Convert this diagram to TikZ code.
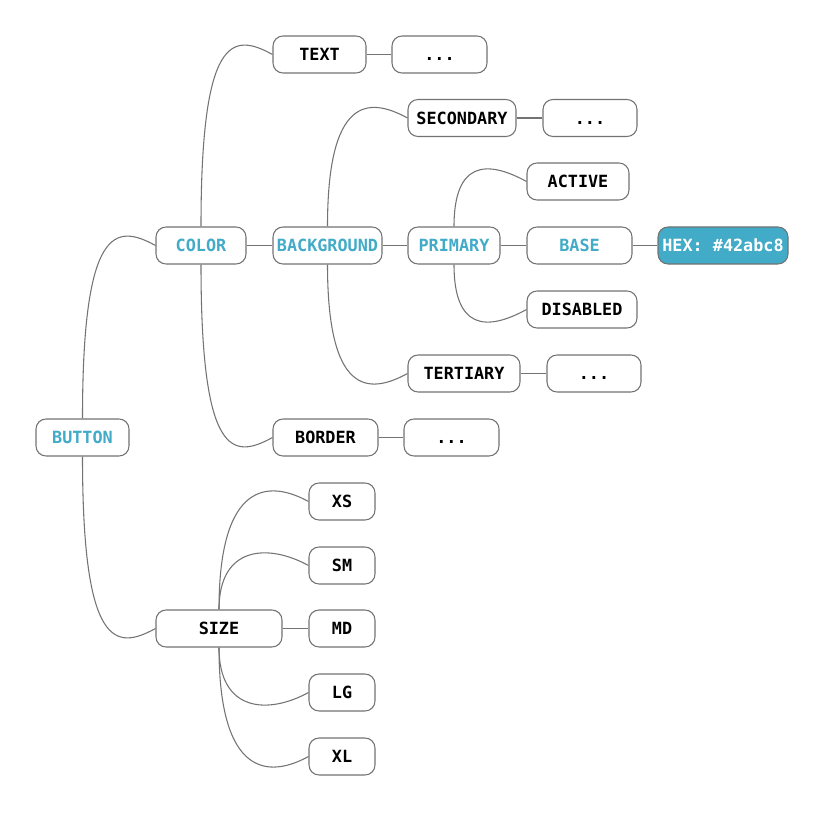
\documentclass[tikz,border=0pt]{standalone}
\usepackage{fontspec}
\setmonofont{DejaVu Sans Mono}
\usetikzlibrary{calc}

\definecolor{accent}{HTML}{42ABC8}
\definecolor{edge}{HTML}{737373}
\definecolor{frame}{HTML}{737373}

\tikzset{
  topic/.style={draw=frame, line width=0.8pt, rounded corners=7.5pt, fill=white,
    minimum height=27.75pt, inner xsep=0pt, inner ysep=0pt,
    text height=9.1pt, text depth=0pt,
    font=\ttfamily\bfseries\fontsize{12.6}{15}\selectfont},
  key/.style={topic, text=accent},
  swatch/.style={topic, fill=accent, text=white},
  wd/.style={minimum width=#1*0.75pt},
  link/.style={draw=edge, line width=0.8pt},
}

% curved branch from a parent's top or bottom into a child's left side
\newcommand\branchup[2]{\draw[link] (#1.north) .. controls ($(#1.north |- #2.west)+(0,-20)$) and ($(#2.west)+(-40,-22)$) .. (#2.west);}
\newcommand\branchdown[2]{\draw[link] (#1.south) .. controls ($(#1.south |- #2.west)+(0,20)$) and ($(#2.west)+(-40,22)$) .. (#2.west);}
\newcommand\branchflat[2]{\draw[link] (#1.east) -- (#2.west);}

\begin{document}
\begin{tikzpicture}[x=0.75pt, y=-0.75pt]
  \useasboundingbox (0,0) rectangle (825,813);

  % root and first level
  \node[key, wd=93]  (button) at (82.5,437.5) {BUTTON};
  \node[key, wd=90]  (color)  at (201,245.5)  {COLOR};
  \node[topic, wd=126] (size) at (219,628.5)  {SIZE};

  % colour branch
  \node[topic, wd=93] (text)     at (319.5,54.5) {TEXT};
  \node[topic, wd=95] (textmore) at (439.5,54.5) {...};
  \node[key, wd=109]  (background) at (327.5,245.5) {BACKGROUND};
  \node[topic, wd=105] (border)   at (325.5,437.5) {BORDER};
  \node[topic, wd=95] (bordermore) at (451.5,437.5) {...};

  \node[topic, wd=108] (secondary) at (462,118) {SECONDARY};
  \node[topic, wd=94]  (secmore)   at (590,118) {...};
  \node[key, wd=92]    (primary)   at (454,245.5) {PRIMARY};
  \node[topic, wd=112] (tertiary)  at (464,373.5) {TERTIARY};
  \node[topic, wd=94]  (termore)   at (594,373.5) {...};

  \node[topic, wd=102] (active)   at (578,181.5) {ACTIVE};
  \node[key, wd=105]   (base)     at (579.5,245.5) {BASE};
  \node[topic, wd=110] (disabled) at (582,309.5) {DISABLED};
  \node[swatch, wd=130] (hex)     at (723,245.5) {HEX: \#42abc8};

  % size branch
  \node[topic, wd=66] (xs) at (342,501.5) {XS};
  \node[topic, wd=66] (sm) at (342,565.5) {SM};
  \node[topic, wd=66] (md) at (342,628.5) {MD};
  \node[topic, wd=66] (lg) at (342,692.5) {LG};
  \node[topic, wd=66] (xl) at (342,756.5) {XL};

  % connectors
  \branchup{button}{color}
  \branchdown{button}{size}

  \branchup{color}{text}
  \branchflat{color}{background}
  \branchdown{color}{border}
  \branchflat{text}{textmore}
  \branchflat{border}{bordermore}

  \branchup{background}{secondary}
  \branchflat{background}{primary}
  \branchdown{background}{tertiary}
  \branchflat{secondary}{secmore}
  \branchflat{tertiary}{termore}

  \branchup{primary}{active}
  \branchflat{primary}{base}
  \branchdown{primary}{disabled}
  \branchflat{base}{hex}

  \branchup{size}{xs}
  \branchup{size}{sm}
  \branchflat{size}{md}
  \branchdown{size}{lg}
  \branchdown{size}{xl}
\end{tikzpicture}
\end{document}
